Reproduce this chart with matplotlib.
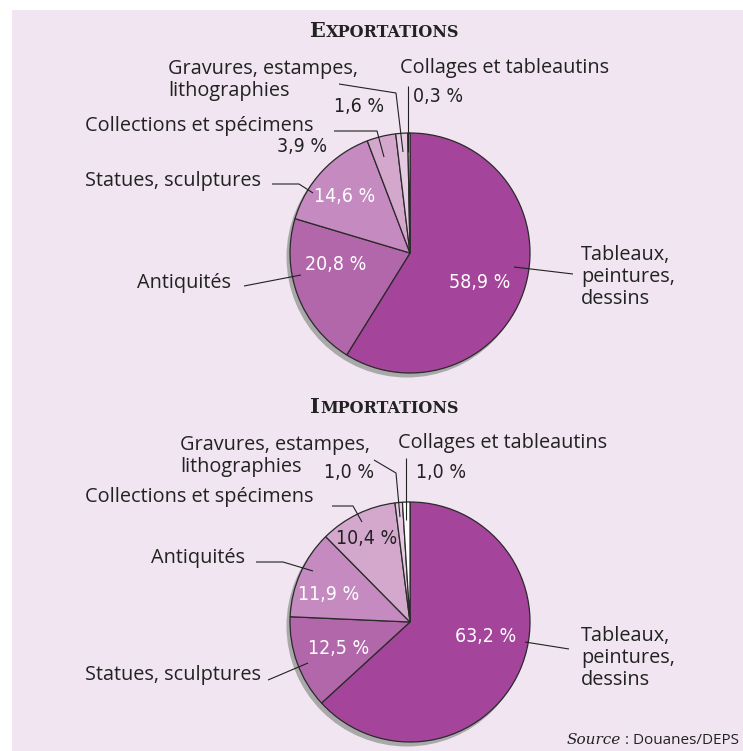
import matplotlib
matplotlib.use("Agg")
import matplotlib.pyplot as plt
from matplotlib.patches import Rectangle, Circle

W, H = 743, 751

categories_exp = ["Tableaux, peintures, dessins", "Antiquités", "Statues, sculptures",
                  "Collections et spécimens", "Gravures, estampes, lithographies",
                  "Collages et tableautins"]
values_exp = [58.9, 20.8, 14.6, 3.9, 1.6, 0.3]
categories_imp = ["Tableaux, peintures, dessins", "Statues, sculptures", "Antiquités",
                  "Collections et spécimens", "Gravures, estampes, lithographies",
                  "Collages et tableautins"]
values_imp = [63.2, 12.5, 11.9, 10.4, 1.0, 1.0]
titles = ["Exportations", "Importations"]
source_text = "Douanes/DEPS"

slice_colors = ["#A4449A", "#B267AA", "#C58ABF", "#D4A8CD", "#E6CCE2", "#FFFFFF"]
bg = "#F0E5F0"
LBL = "Open Sans"
PCT = "DejaVu Sans"
lblsize = 14.3
pctsize = 14

fig = plt.figure(figsize=(W / 100, H / 100), dpi=100, facecolor="white")
ax = fig.add_axes([0, 0, 1, 1])


def lims():
    ax.set_xlim(0, W)
    ax.set_ylim(0, H)
    ax.set_aspect("auto")


def Y(y):
    return H - y


def fmt(v):
    return ("%.1f" % v).replace(".", ",") + " %"


def draw_pie(values, cx, cy, r):
    ax.add_patch(Circle((cx - 3, Y(cy) - 4), r + 0.5, facecolor="#A9A9A9", edgecolor="none", zorder=1))
    wedges, _ = ax.pie(values, colors=slice_colors, startangle=90, counterclock=False,
                       center=(cx, Y(cy)), radius=r,
                       wedgeprops=dict(edgecolor="#2A2A2A", linewidth=0.9))
    for w in wedges:
        w.set_zorder(2)
    lims()


def txt(x, y, s, ha="left", color="#222222", family=LBL, size=lblsize, **kw):
    ax.text(x, Y(y), s, ha=ha, va="center", color=color, family=family, fontsize=size,
            zorder=5, linespacing=1.15, **kw)


def ptxt(x, y, s, ha="left", color="#222222"):
    txt(x, y, s, ha=ha, color=color, family=PCT, size=pctsize, fontstretch="condensed")


def leader(xs, ys):
    ax.plot(xs, [Y(v) for v in ys], color="#222222", lw=0.8, zorder=4, solid_capstyle="butt")


def title(xc, y, s):
    first = ax.text(0, Y(y), s[0].upper(), fontsize=15, family="DejaVu Serif", weight="bold",
                    color="#222222", va="baseline", ha="left", zorder=5)
    rest = ax.text(0, Y(y), s[1:].upper(), fontsize=11.5, family="DejaVu Serif", weight="bold",
                   color="#222222", va="baseline", ha="left", zorder=5)
    fig.canvas.draw()
    r = fig.canvas.get_renderer()
    w1 = first.get_window_extent(r).width
    w2 = rest.get_window_extent(r).width
    x0 = xc - (w1 + w2) / 2
    first.set_x(x0)
    rest.set_x(x0 + w1 + 0.5)


lims()
ax.add_patch(Rectangle((12, 0), W - 12, H - 10, facecolor=bg, edgecolor="none", zorder=0))

# ---- Exportations
draw_pie(values_exp, 410, 253, 120)
title(384, 37, titles[0])
txt(168, 80, "Gravures, estampes,\nlithographies")
ptxt(384, 106, fmt(values_exp[4]), ha="right")
leader([339, 396, 403], [84, 93, 152])
txt(400, 68, "Collages et tableautins")
ptxt(413, 97, fmt(values_exp[5]))
leader([408, 408], [86, 152])
txt(85, 126, "Collections et spécimens")
ptxt(327, 147, fmt(values_exp[3]), ha="right")
leader([334, 377, 384], [131, 131, 157])
txt(85, 181, "Statues, sculptures")
leader([272, 299, 313], [184, 184, 193])
ptxt(345, 197, fmt(values_exp[2]), ha="center", color="white")
txt(137, 283, "Antiquités")
leader([244, 301], [286, 275])
ptxt(336, 265, fmt(values_exp[1]), ha="center", color="white")
ptxt(480, 283, fmt(values_exp[0]), ha="center", color="white")
txt(581, 277, "Tableaux,\npeintures,\ndessins")
leader([514, 573], [267, 274])

# ---- Importations
draw_pie(values_imp, 410, 622, 120)
title(384, 413, titles[1])
txt(180, 456, "Gravures, estampes,\nlithographies")
ptxt(374, 472, fmt(values_imp[4]), ha="right")
leader([374, 396, 400], [460, 473, 517])
txt(398, 443, "Collages et tableautins")
ptxt(416, 472, fmt(values_imp[5]))
leader([406, 406], [458, 520])
txt(85, 497, "Collections et spécimens")
leader([332, 353, 362], [506, 506, 522])
ptxt(367, 538, fmt(values_imp[3]), ha="center")
txt(151, 558, "Antiquités")
leader([256, 283, 313], [562, 562, 571])
ptxt(329, 595, fmt(values_imp[2]), ha="center", color="white")
ptxt(339, 649, fmt(values_imp[1]), ha="center", color="white")
txt(85, 675, "Statues, sculptures")
leader([268, 308], [680, 663])
ptxt(486, 636, fmt(values_imp[0]), ha="center", color="white")
txt(581, 658, "Tableaux,\npeintures,\ndessins")
leader([525, 569], [642, 649])

# source
lims()
src = ax.text(739, Y(740), " : " + source_text, ha="right", va="center", fontsize=11,
              family=LBL, color="#222222", zorder=5)
fig.canvas.draw()
bb = src.get_window_extent(fig.canvas.get_renderer())
ax.text(bb.x0, Y(740), "Source", ha="right", va="center", fontsize=11, family="DejaVu Serif",
        style="italic", color="#222222", zorder=5)

lims()
ax.axis("off")
fig.savefig("out.png", dpi=100, facecolor="white")
